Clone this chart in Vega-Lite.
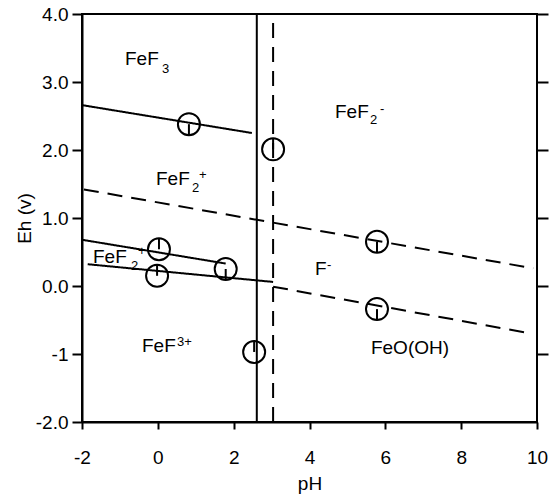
{
  "$schema": "https://vega.github.io/schema/vega-lite/v6.json",
  "width": 455,
  "height": 408,
  "padding": {"left": 15, "top": 5, "right": 5, "bottom": 2},
  "background": "white",
  "config": {
    "font": "Liberation Sans",
    "view": {"stroke": "black", "strokeWidth": 2},
    "axis": {
      "grid": false,
      "domainColor": "black",
      "domainWidth": 2,
      "tickColor": "black",
      "tickWidth": 2,
      "labelColor": "black",
      "labelFont": "Liberation Sans",
      "labelFontSize": 19,
      "titleFont": "Liberation Sans",
      "titleFontSize": 19,
      "titleFontWeight": "normal",
      "titleColor": "black",
      "labelFlush": false
    }
  },
  "datasets": {
    "lines": [
      {"id": "L1", "kind": "solid", "x": -2, "y": 2.66},
      {"id": "L1", "kind": "solid", "x": 2.48, "y": 2.25},
      {"id": "L2", "kind": "dashed", "x": -1.95, "y": 1.42},
      {"id": "L2", "kind": "dashed", "x": 9.9, "y": 0.26},
      {"id": "L3", "kind": "solid", "x": -2, "y": 0.68},
      {"id": "L3", "kind": "solid", "x": 1.79, "y": 0.33},
      {"id": "L4", "kind": "solid", "x": -1.85, "y": 0.32},
      {"id": "L4", "kind": "solid", "x": 3.04, "y": 0.06},
      {"id": "L5", "kind": "dashed", "x": 3.04, "y": -0.01},
      {"id": "L5", "kind": "dashed", "x": 9.76, "y": -0.69},
      {"id": "V1", "kind": "solid", "x": 2.61, "y": -2},
      {"id": "V1", "kind": "solid", "x": 2.61, "y": 4},
      {"id": "V2", "kind": "dashed", "x": 3.04, "y": -2},
      {"id": "V2", "kind": "dashed", "x": 3.04, "y": 4}
    ],
    "points": [
      {"x": 0.82, "y": 2.38, "tick": "down"},
      {"x": 3.04, "y": 2.01, "tick": "up"},
      {"x": 0.03, "y": 0.54, "tick": "up"},
      {"x": 1.79, "y": 0.25, "tick": "down"},
      {"x": -0.02, "y": 0.15, "tick": "up"},
      {"x": 2.54, "y": -0.97, "tick": "up"},
      {"x": 5.78, "y": 0.65, "tick": "down"},
      {"x": 5.78, "y": -0.34, "tick": "down"}
    ],
    "labels": [
      {"x": -0.866, "y": 3.338, "label": "FeF", "part": "main"},
      {"x": 0.11, "y": 3.19, "label": "3", "part": "small"},
      {"x": -0.048, "y": 1.574, "label": "FeF", "part": "main"},
      {"x": 0.9, "y": 1.44, "label": "2", "part": "small"},
      {"x": 1.086, "y": 1.632, "label": "+", "part": "small"},
      {"x": 4.672, "y": 2.559, "label": "FeF", "part": "main"},
      {"x": 5.595, "y": 2.44, "label": "2", "part": "small"},
      {"x": 5.86, "y": 2.6, "label": "-", "part": "small"},
      {"x": -1.71, "y": 0.426, "label": "FeF", "part": "main"},
      {"x": -0.708, "y": 0.294, "label": "2", "part": "small"},
      {"x": -0.523, "y": 0.515, "label": "+", "part": "small"},
      {"x": 4.145, "y": 0.25, "label": "F", "part": "main"},
      {"x": 4.46, "y": 0.31, "label": "-", "part": "small"},
      {"x": -0.418, "y": -0.882, "label": "FeF", "part": "main"},
      {"x": 0.505, "y": -0.824, "label": "3+", "part": "small"},
      {"x": 5.62, "y": -0.912, "label": "FeO(OH)", "part": "main"}
    ]
  },
  "layer": [
    {
      "data": {"name": "lines"},
      "mark": {"type": "line", "color": "black", "strokeWidth": 2},
      "encoding": {
        "x": {
          "field": "x", "type": "quantitative",
          "scale": {"domain": [-2, 10], "nice": false, "zero": false},
          "axis": {"title": "pH", "values": [-2, 0, 2, 4, 6, 8, 10], "tickSize": 7, "labelPadding": 19, "titlePadding": 7, "labelFlush": false, "labelExpr": "replace(datum.label, '−', '-')"}
        },
        "y": {
          "field": "y", "type": "quantitative",
          "scale": {"domain": [-2, 4], "nice": false, "zero": false},
          "axis": {"title": "Eh (v)", "values": [-2, -1, 0, 1, 2, 3, 4], "tickSize": 10, "labelPadding": 4, "titlePadding": 1, "labelExpr": "datum.value == -1 ? '-1' : datum.value == -2 ? '-2.0' : format(datum.value, '.1f')"}
        },
        "detail": {"field": "id"},
        "strokeDash": {"field": "kind", "type": "nominal", "scale": {"domain": ["solid", "dashed"], "range": [[1, 0], [15, 9]]}, "legend": null}
      }
    },
    {
      "data": {"name": "points"},
      "mark": {"type": "point", "shape": "circle", "size": 484, "filled": false, "color": "black", "strokeWidth": 2, "opacity": 1},
      "encoding": {
        "x": {"field": "x", "type": "quantitative"},
        "y": {"field": "y", "type": "quantitative", "axis": {"orient": "right", "labels": false, "title": null, "values": [-1, 0, 1, 2, 3, 4], "tickSize": 11, "domain": false}}
      }
    },
    {
      "data": {"name": "points"},
      "mark": {"type": "point", "size": 484, "filled": false, "color": "black", "strokeWidth": 2, "opacity": 1},
      "encoding": {
        "x": {"field": "x", "type": "quantitative"},
        "y": {"field": "y", "type": "quantitative", "axis": null},
        "shape": {"field": "tick", "type": "nominal", "scale": {"domain": ["up", "down"], "range": ["M0,-1L0,0", "M0,0L0,1"]}, "legend": null}
      }
    },
    {
      "data": {"name": "labels"},
      "transform": [{"filter": "datum.part == 'main'"}],
      "mark": {"type": "text", "align": "left", "baseline": "middle", "fontSize": 19, "font": "Liberation Sans", "color": "black"},
      "encoding": {
        "x": {"field": "x", "type": "quantitative"},
        "y": {"field": "y", "type": "quantitative", "axis": null},
        "text": {"field": "label"}
      }
    },
    {
      "data": {"name": "labels"},
      "transform": [{"filter": "datum.part == 'small'"}],
      "mark": {"type": "text", "align": "left", "baseline": "middle", "fontSize": 13, "font": "Liberation Sans", "color": "black"},
      "encoding": {
        "x": {"field": "x", "type": "quantitative"},
        "y": {"field": "y", "type": "quantitative", "axis": null},
        "text": {"field": "label"}
      }
    }
  ],
  "resolve": {"axis": {"y": "independent"}}
}
